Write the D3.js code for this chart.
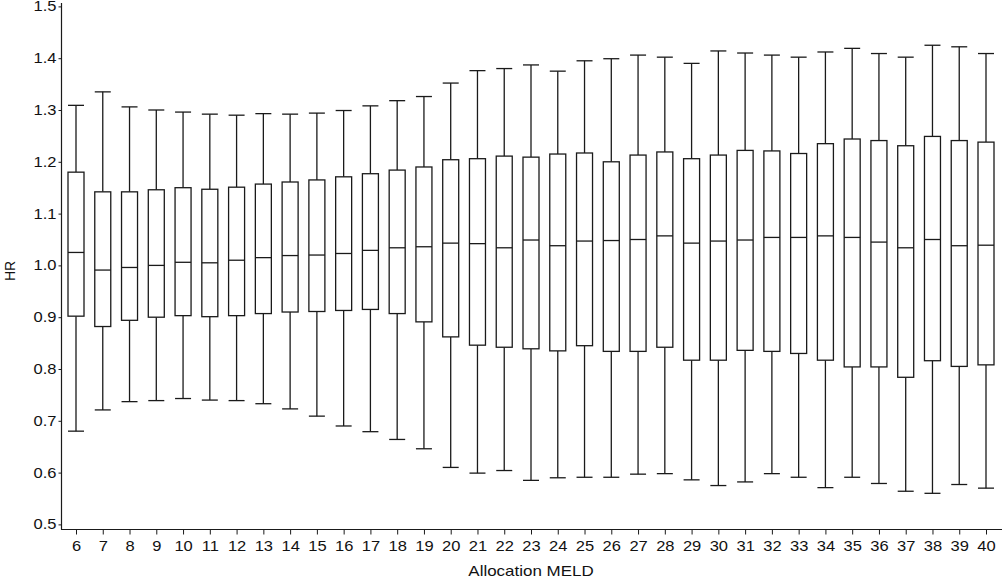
<!DOCTYPE html>
<html>
<head>
<meta charset="utf-8">
<script src="https://cdn.jsdelivr.net/npm/d3@7.9.0/dist/d3.min.js"></script>
<style>
  body { margin: 0; background: #fff; }
  svg { display: block; font-family: "Liberation Sans", Arial, sans-serif; }
  .tick text { font-size: 14px; fill: #111; }
</style>
</head>
<body>
<svg width="1003" height="578"></svg>
<script>
// allocation MELD categories
const meld = d3.range(6, 41);

// upper whisker, box top (Q3), median, box bottom (Q1), lower whisker
const upper = [1.309, 1.335, 1.306, 1.300, 1.296, 1.292, 1.290, 1.293, 1.292, 1.294,
  1.299, 1.308, 1.318, 1.326, 1.352, 1.376, 1.380, 1.387, 1.375, 1.395,
  1.399, 1.406, 1.402, 1.390, 1.414, 1.410, 1.406, 1.402, 1.412, 1.419,
  1.409, 1.402, 1.425, 1.422, 1.409];
const q3 = [1.180, 1.142, 1.142, 1.146, 1.150, 1.147, 1.151, 1.157, 1.161, 1.165,
  1.171, 1.177, 1.184, 1.190, 1.204, 1.206, 1.211, 1.209, 1.215, 1.217,
  1.200, 1.213, 1.219, 1.206, 1.213, 1.222, 1.221, 1.216, 1.235, 1.244,
  1.241, 1.231, 1.249, 1.241, 1.238];
const median = [1.025, 0.991, 0.996, 1.000, 1.006, 1.005, 1.010, 1.015, 1.019, 1.020,
  1.023, 1.029, 1.034, 1.036, 1.043, 1.042, 1.034, 1.049, 1.038, 1.047,
  1.048, 1.050, 1.057, 1.043, 1.047, 1.049, 1.054, 1.054, 1.057, 1.054,
  1.045, 1.034, 1.050, 1.038, 1.039];
const q1 = [0.902, 0.882, 0.894, 0.900, 0.903, 0.901, 0.903, 0.907, 0.910, 0.911,
  0.913, 0.915, 0.907, 0.891, 0.862, 0.846, 0.842, 0.839, 0.835, 0.845,
  0.834, 0.834, 0.842, 0.817, 0.817, 0.836, 0.834, 0.830, 0.817, 0.804,
  0.804, 0.784, 0.816, 0.805, 0.808];
const lower = [0.680, 0.721, 0.737, 0.739, 0.743, 0.740, 0.739, 0.733, 0.723, 0.709,
  0.690, 0.679, 0.664, 0.646, 0.610, 0.599, 0.604, 0.585, 0.590, 0.591,
  0.591, 0.597, 0.598, 0.586, 0.575, 0.582, 0.598, 0.591, 0.571, 0.591,
  0.579, 0.564, 0.560, 0.577, 0.570];

const yTicks = d3.range(0.5, 1.501, 0.1);

const svg = d3.select('svg');
const ink = '#1a1a1a';
const stretch = 1.18; // the original lettering is a little wide

const x = d3.scalePoint().domain(meld).range([76, 986]);
const y = d3.scaleLinear().domain([0.5, 1.5]).range([524.4, 6.4]);
const boxW = 16;

// axes
const yAxis = svg.append('g')
  .attr('transform', 'translate(61.5,0)')
  .call(d3.axisLeft(y).tickValues(yTicks).tickFormat(d3.format('.1f')).tickSize(3).tickPadding(2));
yAxis.select('.domain').remove();
yAxis.selectAll('line').attr('stroke', ink);
yAxis.selectAll('.tick text')
  .attr('x', -5 / stretch)
  .attr('transform', `scale(${stretch},1)`);

const xAxis = svg.append('g')
  .attr('transform', 'translate(0,529.5)')
  .call(d3.axisBottom(x).tickSize(5).tickPadding(7));
xAxis.select('.domain').remove();
xAxis.selectAll('line').attr('stroke', ink);
xAxis.selectAll('.tick text').attr('transform', `scale(${stretch},1)`);

svg.append('line')
  .attr('x1', 61.5).attr('x2', 61.5).attr('y1', 3).attr('y2', 529.5)
  .attr('stroke', ink).attr('stroke-width', 1.2);
svg.append('line')
  .attr('x1', 61).attr('x2', 1002).attr('y1', 529.5).attr('y2', 529.5)
  .attr('stroke', ink).attr('stroke-width', 1.2);

// axis titles
svg.append('text')
  .attr('transform', 'translate(531,576) scale(1.13,1)')
  .attr('text-anchor', 'middle')
  .style('font-size', '15px').attr('fill', '#111')
  .text('Allocation MELD');
svg.append('text')
  .attr('transform', 'translate(15,271) rotate(-90)')
  .attr('text-anchor', 'middle')
  .style('font-size', '14px').attr('fill', '#111')
  .text('HR');

// boxes
const g = svg.append('g')
  .attr('stroke', ink).attr('stroke-width', 1.3).attr('fill', 'none');

meld.forEach((m, i) => {
  const cx = x(m);
  // whiskers
  g.append('line').attr('x1', cx).attr('x2', cx).attr('y1', y(upper[i])).attr('y2', y(q3[i]));
  g.append('line').attr('x1', cx).attr('x2', cx).attr('y1', y(q1[i])).attr('y2', y(lower[i]));
  g.append('line').attr('x1', cx - boxW / 2).attr('x2', cx + boxW / 2).attr('y1', y(upper[i])).attr('y2', y(upper[i]));
  g.append('line').attr('x1', cx - boxW / 2).attr('x2', cx + boxW / 2).attr('y1', y(lower[i])).attr('y2', y(lower[i]));
  // box
  g.append('rect')
    .attr('x', cx - boxW / 2).attr('width', boxW)
    .attr('y', y(q3[i])).attr('height', y(q1[i]) - y(q3[i]))
    .attr('fill', '#fff');
  g.append('line').attr('x1', cx - boxW / 2).attr('x2', cx + boxW / 2).attr('y1', y(median[i])).attr('y2', y(median[i]));
});
</script>
</body>
</html>
